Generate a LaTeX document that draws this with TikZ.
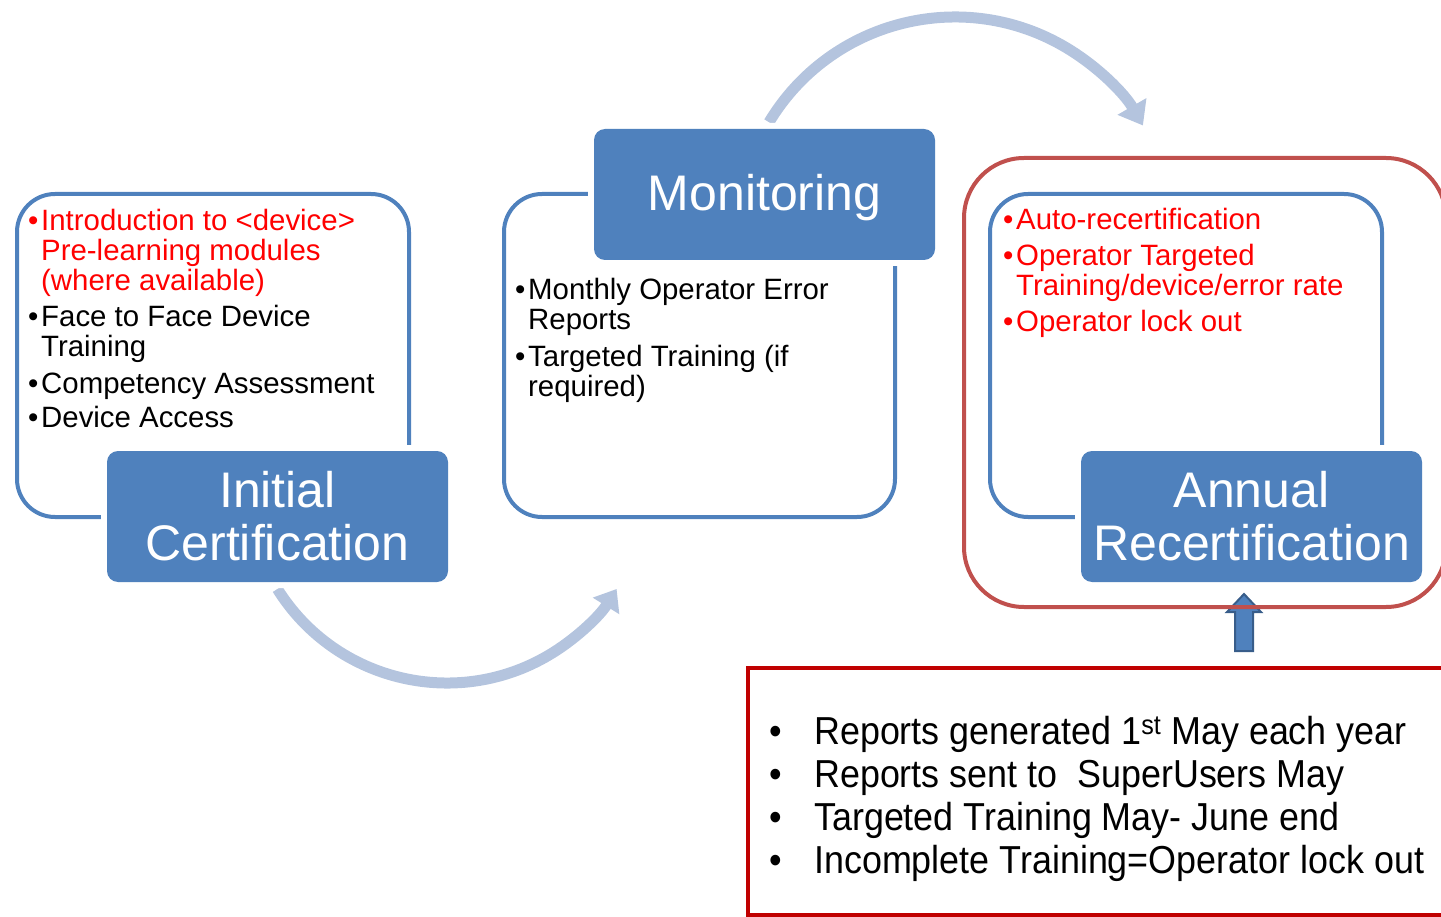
\documentclass[tikz,border=0pt]{standalone}
\usepackage{fontspec}
\setmainfont{Liberation Sans}
\newfontfamily\narrowfont[FakeStretch=0.92]{Liberation Sans}
\usetikzlibrary{arrows.meta,calc}
\definecolor{boxblue}{RGB}{79,129,189}
\definecolor{arcblue}{RGB}{180,196,222}
\definecolor{outred}{RGB}{192,80,77}
\definecolor{darkred}{RGB}{192,0,0}
\definecolor{arrowedge}{RGB}{56,93,138}
\definecolor{txtred}{RGB}{255,0,0}
\newcommand{\bu}{\makebox[13pt][l]{\textbullet}}
\newcommand{\ind}{\hspace*{13pt}}
\newcommand{\bbu}{\makebox[45pt][l]{\textbullet}}
\begin{document}
\begin{tikzpicture}[x=1pt,y=-1pt,
  frame/.style={draw=boxblue, line width=4pt, rounded corners=38pt, minimum width=392pt, minimum height=323pt, inner sep=0pt},
  titlebox/.style={fill=boxblue, rounded corners=11pt, preaction={draw=white, line width=12pt}, minimum width=341pt, minimum height=131pt, inner sep=0pt, text=white, align=center, font=\fontsize{50}{53}\selectfont},
  body/.style={font=\fontsize{29.4}{30}\selectfont, anchor=base west, align=left, inner sep=0pt},
  arcarrow/.style={draw=arcblue, line width=11pt},
  bottomtext/.style={font=\narrowfont\fontsize{39}{43}\selectfont, anchor=base west, align=left, inner sep=0pt}
]
\useasboundingbox (0,0) rectangle (1441,917);

% curved arrows
\coordinate (tc) at (955,234);
\coordinate (bc) at (447,483);
\draw[arcarrow, -{Triangle[width=32pt,length=22pt]}] ($(tc)+(-149:217)$) arc[start angle=-149, end angle=-30, radius=217];
\draw[arcarrow, -{Triangle[width=30pt,length=20pt]}] ($(bc)+(148:200)$) arc[start angle=148, end angle=32, radius=200];

% frames
\node[frame] (leftframe) at (213,355.5) {};
\node[frame, minimum width=391pt] (midframe) at (699.5,355.5) {};
\node[frame] (rightframe) at (1186,355.5) {};

% title boxes
\node[titlebox] (init) at (277.5,516.5) {Initial\\Certification};
\node[titlebox, text height=42pt, text depth=10.5pt] (mon) at (764.5,194.5) {Monitoring};
\node[titlebox] (annual) at (1251.5,516.5) {Annual\\Recertification};

% list texts (base = baseline of last line)
\node[body, text=txtred] (l1) at (28,291) {\bu Introduction to <device>\\\ind Pre-learning modules\\\ind (where available)};
\node[body] (l2) at (28,357) {\bu Face to Face Device\\\ind Training};
\node[body] (l3) at (28,393) {\bu Competency Assessment};
\node[body] (l4) at (28,428) {\bu Device Access};

\node[body] (m1) at (515,330) {\bu Monthly Operator Error\\\ind Reports};
\node[body] (m2) at (515,396) {\bu Targeted Training (if\\\ind required)};

\node[body, text=txtred] (r1) at (1003,230) {\bu Auto-recertification};
\node[body, text=txtred] (r2) at (1003,296) {\bu Operator Targeted\\\ind Training/device/error rate};
\node[body, text=txtred] (r3) at (1003,332) {\bu Operator lock out};

% up arrow
\coordinate (ua) at (1244,651);
\draw[fill=boxblue, draw=arrowedge, line width=2pt, line join=miter]
  ($(ua)+(-9,0)$) -- ($(ua)+(-9,-39)$) -- ($(ua)+(-17,-39)$) -- ($(ua)+(0,-57)$) -- ($(ua)+(17,-39)$) -- ($(ua)+(9,-39)$) -- ($(ua)+(9,0)$) -- cycle;

% red outer frame
\node[draw=outred, line width=4pt, rounded corners=60pt, minimum width=482pt, minimum height=449pt, inner sep=0pt] (redframe) at (1205,382.5) {};

% bottom box
\node[draw=darkred, line width=4pt, minimum width=712pt, minimum height=247pt, inner sep=0pt] (notes) at (1104,791.5) {};
\node[bottomtext] (n1) at (769,873) {\bbu Reports generated 1\textsuperscript{st} May each year\\
\bbu Reports sent to\ \ SuperUsers May\\
\bbu Targeted Training May- June end\\
\bbu Incomplete Training=Operator lock out};
\end{tikzpicture}
\end{document}
